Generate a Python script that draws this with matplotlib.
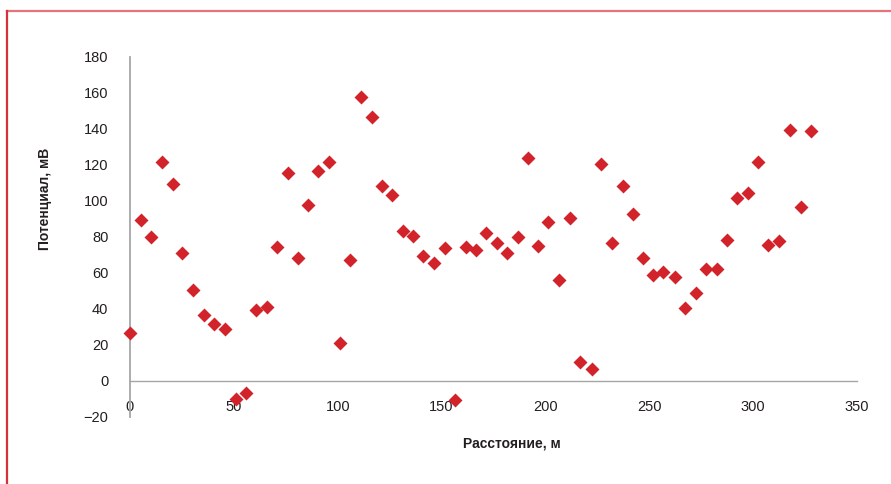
import matplotlib
matplotlib.use("Agg")
import matplotlib.pyplot as plt
from matplotlib import font_manager
from matplotlib.lines import Line2D

# narrow font if there is one, else Liberation Sans (narrower than DejaVu)
installed = {f.name for f in font_manager.fontManager.ttflist}
main_font = "Liberation Sans Narrow" if "Liberation Sans Narrow" in installed else "Liberation Sans"
plt.rcParams["font.family"] = [main_font, "DejaVu Sans"]

# distance along the profile, m
distance = [0, 5.3, 10.1, 15.3, 20.6, 25.2, 30.5, 35.8, 40.6, 45.7,
            51.0, 55.8, 60.7, 65.8, 70.6, 75.9, 81.0, 85.8, 90.7, 96.0,
            101.1, 105.9, 111.1, 116.4, 121.2, 126.3, 131.3, 136.4, 140.9, 146.5,
            151.7, 156.5, 161.6, 166.6, 171.4, 176.5, 181.4, 186.7, 191.5, 196.3,
            201.4, 206.6, 211.8, 216.6, 222.3, 226.8, 232.2, 237.2, 242.0, 247.1,
            251.6, 256.8, 262.4, 267.2, 272.4, 277.2, 282.8, 287.3, 292.1, 297.7,
            302.5, 307.3, 312.6, 317.8, 322.9, 327.7]
# measured potential, mV
potential = [26.7, 89.1, 79.7, 121.7, 109.3, 71.1, 50.4, 36.5, 31.5, 28.6,
             -10.2, -7.0, 39.3, 40.8, 74.1, 115.2, 68.0, 97.6, 116.5, 121.7,
             20.8, 67.1, 157.8, 146.7, 108.2, 103.2, 83.2, 80.6, 69.3, 65.2,
             73.6, -10.7, 74.4, 72.6, 82.2, 76.3, 71.1, 79.7, 123.6, 74.8,
             88.0, 55.9, 90.2, 10.6, 6.3, 120.4, 76.7, 108.2, 92.4, 68.0,
             58.7, 60.6, 57.8, 40.2, 48.6, 62.1, 62.1, 78.2, 101.7, 104.1,
             121.3, 75.4, 77.6, 139.3, 96.7, 138.6]

x_ticks = [0, 50, 100, 150, 200, 250, 300, 350]
y_ticks = [-20, 0, 20, 40, 60, 80, 100, 120, 140, 160, 180]
y_ticklabels = ["\u221220" if v < 0 else str(v) for v in y_ticks]

text_color = "#231f20"
axis_color = "#a6a6a6"
marker_color = "#d2232a"

fig = plt.figure(figsize=(8.91, 4.84), dpi=100)
ax = fig.add_axes([130 / 891, 1 - 416.7 / 484, 727 / 891, 360 / 484])

ax.plot(distance, potential, "D", ms=7.4, color=marker_color, mec="none",
        clip_on=False, zorder=3)

ax.set_xlim(0, 350)
ax.set_ylim(-20, 180)
ax.set_xticks(x_ticks)
ax.set_yticks(y_ticks)
ax.set_yticklabels(y_ticklabels)

for side in ["top", "right"]:
    ax.spines[side].set_visible(False)
ax.spines["bottom"].set_position(("data", 0))
ax.spines["bottom"].set_color(axis_color)
ax.spines["bottom"].set_linewidth(1.0)
ax.spines["left"].set_color(axis_color)
ax.spines["left"].set_linewidth(1.3)

ax.tick_params(axis="x", length=0, pad=14, labelsize=10.5, labelcolor=text_color)
ax.tick_params(axis="y", length=0, pad=15.5, labelsize=10.5, labelcolor=text_color)

fig.text(45 / 891, 1 - 199 / 484, "Потенциал, мВ", rotation=90, ha="center",
         va="center", fontsize=10, fontweight="bold", color=text_color)
fig.text(512 / 891, 1 - 443 / 484, "Расстояние, м", ha="center", va="center",
         fontsize=10, fontweight="bold", color=text_color)

# red frame around the figure (top and left edges)
fig.add_artist(Line2D([7 / 891, 1], [1 - 11 / 484] * 2, color="#e5737b",
                      lw=1.6, transform=fig.transFigure))
fig.add_artist(Line2D([7 / 891] * 2, [0, 1 - 11 / 484], color="#d3323a",
                      lw=1.6, transform=fig.transFigure))

fig.savefig("out.png", dpi=100)
